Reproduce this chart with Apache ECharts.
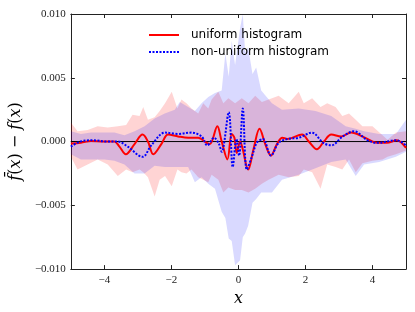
<!DOCTYPE html>
<html><head><meta charset="utf-8">
<script src="https://cdn.jsdelivr.net/npm/echarts@6/dist/echarts.min.js"></script>
<style>html,body{margin:0;padding:0;background:#fff}#c{width:415px;height:312px}</style>
</head><body><div id="c"></div>
<script>
const xTicks = [-4, -2, 0, 2, 4];
const yTicks = [-0.010, -0.005, 0.000, 0.005, 0.010];
const seriesNames = ['uniform histogram', 'non-uniform histogram'];

const uniformX = [-5.0,-4.7,-4.4,-4.0,-3.7,-3.55,-3.36,-3.1,-2.86,-2.7,-2.54,-2.3,-2.1,-1.8,-1.5,-1.2,-0.95,-0.85,-0.63,-0.5,-0.33,-0.2,-0.12,-0.05,0.05,0.12,0.29,0.45,0.63,0.8,0.97,1.15,1.31,1.46,1.9,2.1,2.34,2.55,2.77,3.07,3.36,3.74,4.14,4.43,4.72,5.0];
const uniformY = [-0.00015,-0.0001,0.00005,0.0,0.0,-0.0004,-0.001,-0.0002,0.00055,0.0,-0.001,-0.0002,0.00055,0.0004,0.0003,0.0003,-0.0001,-0.0002,0.0012,0.0,-0.0014,0.0006,0.0003,-0.0009,0.0,-0.0005,-0.0022,-0.0006,0.001,-0.0002,-0.0011,-0.0002,0.0003,0.0002,0.00055,0.0,-0.0006,0.0,0.00055,0.0004,0.0007,0.00035,-0.0001,-0.0001,0.0001,-0.0005];

const nonUniformX = [-5.0,-4.72,-4.33,-3.94,-3.6,-3.3,-2.86,-2.6,-2.19,-1.8,-1.4,-1.1,-0.93,-0.73,-0.58,-0.5,-0.29,-0.17,-0.06,0.02,0.13,0.25,0.4,0.55,0.73,0.97,1.2,1.46,1.8,2.19,2.53,2.77,3.11,3.45,3.85,4.14,4.72,5.0];
const nonUniformY = [-0.0004,0.0,0.0001,0.0,0.0,-0.0004,-0.0012,-0.0003,0.0007,0.0006,0.0007,0.0004,-0.0003,0.0003,-0.0002,-0.0008,0.0023,-0.002,0.0002,-0.0011,0.0026,-0.0022,-0.0012,-0.0001,0.0002,-0.0011,-0.0001,0.0002,0.0003,0.0007,-0.0001,-0.0003,0.0004,0.0008,0.0001,-0.0001,0.0001,-0.0003];

const uniformBandX = [-5.0,-4.8,-4.5,-4.2,-3.9,-3.6,-3.35,-3.16,-2.95,-2.84,-2.7,-2.5,-2.35,-2.19,-1.99,-1.82,-1.7,-1.55,-1.4,-1.2,-1.05,-0.9,-0.8,-0.6,-0.45,-0.3,-0.1,0.1,0.3,0.5,0.7,0.9,1.2,1.5,1.8,1.95,2.2,2.45,2.65,2.9,3.1,3.3,3.5,3.7,4.0,4.3,4.45,4.7,5.0];
const uniformBandUpper = [0.0015,0.0008,0.0009,0.0012,0.0011,0.0012,0.0013,0.0021,0.002,0.0027,0.0017,0.0019,0.0024,0.003,0.0039,0.0026,0.0033,0.003,0.0026,0.0022,0.003,0.0026,0.0033,0.0039,0.003,0.0034,0.003,0.0034,0.003,0.0036,0.0031,0.0033,0.0036,0.003,0.0039,0.003,0.0034,0.0027,0.003,0.0027,0.002,0.0022,0.0017,0.0012,0.0012,0.0005,0.00015,0.0007,0.0008];
const uniformBandLower = [-0.0012,-0.0022,-0.0018,-0.0014,-0.0018,-0.0027,-0.0022,-0.0024,-0.0022,-0.0024,-0.0028,-0.0043,-0.003,-0.0027,-0.0035,-0.0022,-0.0024,-0.0025,-0.0022,-0.0028,-0.003,-0.0032,-0.0026,-0.003,-0.004,-0.0036,-0.0038,-0.0038,-0.004,-0.0037,-0.0033,-0.003,-0.0026,-0.0028,-0.0027,-0.0022,-0.0024,-0.0037,-0.0018,-0.002,-0.0022,-0.0014,-0.0024,-0.0017,-0.0015,-0.0014,-0.0012,-0.001,-0.0007];

const nonUniformBandX = [-5.0,-4.7,-4.4,-4.0,-3.7,-3.4,-3.1,-2.8,-2.5,-2.2,-1.9,-1.75,-1.5,-1.3,-1.1,-0.9,-0.7,-0.5,-0.39,-0.29,-0.2,-0.1,0.05,0.13,0.2,0.29,0.42,0.53,0.68,1.0,1.3,1.8,2.3,2.77,3.2,3.5,3.75,4.2,4.7,5.0];
const nonUniformBandUpper = [0.0008,0.0006,0.0007,0.0007,0.0007,0.0005,0.0008,0.0012,0.0018,0.0022,0.0025,0.0031,0.0027,0.0024,0.003,0.0035,0.0038,0.004,0.0069,0.0051,0.0079,0.006,0.0089,0.01,0.007,0.0074,0.0053,0.0058,0.004,0.003,0.0025,0.0026,0.0024,0.002,0.0012,0.001,0.0008,0.0006,0.0006,0.0017];
const nonUniformBandLower = [-0.001,-0.0014,-0.0014,-0.0014,-0.0015,-0.0018,-0.0025,-0.0025,-0.0019,-0.002,-0.002,-0.002,-0.002,-0.0032,-0.0028,-0.0033,-0.0037,-0.0055,-0.006,-0.0076,-0.0078,-0.0097,-0.0093,-0.0075,-0.0072,-0.0066,-0.0048,-0.0045,-0.004,-0.004,-0.003,-0.0026,-0.0021,-0.0016,-0.0014,-0.0027,-0.0018,-0.0016,-0.0012,-0.0008];

const zeroLineX = [-5, 5];
const zeroLineY = [0, 0];

function pairs(xs, ys) { return xs.map((x, i) => [x, ys[i]]); }
function bandSeries(xs, up, lo, color) {
  return {
    type: 'custom', silent: true, z: 1, clip: true,
    data: [[xs[0], up[0]]],
    renderItem(params, api) {
      const pts = [];
      for (let i = 0; i < xs.length; i++) pts.push(api.coord([xs[i], up[i]]));
      for (let i = xs.length - 1; i >= 0; i--) pts.push(api.coord([xs[i], lo[i]]));
      return { type: 'polygon', shape: { points: pts }, style: { fill: color } };
    }
  };
}
const minus = s => s.replace('-', '\u2212');
const axisCol = '#222';
const chart = echarts.init(document.getElementById('c'), null, { renderer: 'canvas' });
chart.setOption({
  animation: false,
  backgroundColor: '#fff',
  grid: { left: 64, right: 9, top: 14, bottom: 41 },
  legend: {
    data: seriesNames, orient: 'vertical', left: 143, top: 24,
    itemWidth: 30, itemHeight: 14, itemGap: 5,
    itemStyle: { opacity: 0 },
    textStyle: { fontFamily: 'DejaVu Sans', fontSize: 12, color: '#000', padding: [0, 0, 0, 7] }
  },
  xAxis: [{
    type: 'value', min: -5, max: 5, position: 'bottom',
    name: 'x', nameLocation: 'middle', nameGap: 17,
    nameTextStyle: { fontFamily: 'DejaVu Serif', fontStyle: 'italic', fontSize: 16, color: '#000' },
    axisLine: { show: true, onZero: false, lineStyle: { color: axisCol, width: 1 } },
    axisTick: { show: true, inside: true, length: 4, customValues: xTicks, lineStyle: { color: axisCol } },
    axisLabel: { customValues: xTicks, formatter: v => minus(String(v)), fontFamily: 'Liberation Serif', fontSize: 11, color: '#222', margin: 6 },
    splitLine: { show: false }
  }, {
    type: 'value', min: -5, max: 5, position: 'top',
    axisLine: { show: true, onZero: false, lineStyle: { color: axisCol, width: 1 } },
    axisTick: { show: true, inside: true, length: 4, customValues: xTicks, lineStyle: { color: axisCol } },
    axisLabel: { show: false }, splitLine: { show: false }
  }],
  yAxis: [{
    type: 'value', min: -0.010, max: 0.010, interval: 0.005, position: 'left',
    name: '{i|f\u0304}{n|(}{i|x}{n|) \u2212 }{i|f}{n|(}{i|x}{n|)}',
    nameLocation: 'middle', nameGap: 22, nameRotate: 90,
    nameTextStyle: {
      rich: {
        i: { fontFamily: 'DejaVu Serif', fontStyle: 'italic', fontSize: 16, color: '#000' },
        n: { fontFamily: 'DejaVu Serif', fontSize: 16, color: '#000' }
      }
    },
    axisLine: { show: true, onZero: false, lineStyle: { color: axisCol, width: 1 } },
    axisTick: { show: true, inside: true, length: 4, lineStyle: { color: axisCol } },
    axisLabel: { formatter: v => minus(v.toFixed(3)), fontFamily: 'Liberation Serif', fontSize: 11, color: '#222', margin: 5 },
    splitLine: { show: false }
  }, {
    type: 'value', min: -0.010, max: 0.010, interval: 0.005, position: 'right',
    axisLine: { show: true, onZero: false, lineStyle: { color: axisCol, width: 1 } },
    axisTick: { show: true, inside: true, length: 4, lineStyle: { color: axisCol } },
    axisLabel: { show: false }, splitLine: { show: false }
  }],
  series: [
    bandSeries(uniformBandX, uniformBandUpper, uniformBandLower, 'rgba(255,0,0,0.17)'),
    bandSeries(nonUniformBandX, nonUniformBandUpper, nonUniformBandLower, 'rgba(0,0,255,0.15)'),
    {
      type: 'line', data: pairs(zeroLineX, zeroLineY), symbol: 'none', silent: true, z: 2,
      lineStyle: { color: '#000', width: 1 }
    },
    {
      name: seriesNames[0], type: 'line', data: pairs(uniformX, uniformY), symbol: 'none', smooth: 0.35, z: 3,
      itemStyle: { color: '#ff0000' }, lineStyle: { color: '#ff0000', width: 2 }
    },
    {
      name: seriesNames[1], type: 'line', data: pairs(nonUniformX, nonUniformY), symbol: 'none', smooth: 0.35, z: 4,
      itemStyle: { color: '#0000ff' }, lineStyle: { color: '#0000ff', width: 2, type: [2, 1.5] }
    }
  ]
});
</script></body></html>
